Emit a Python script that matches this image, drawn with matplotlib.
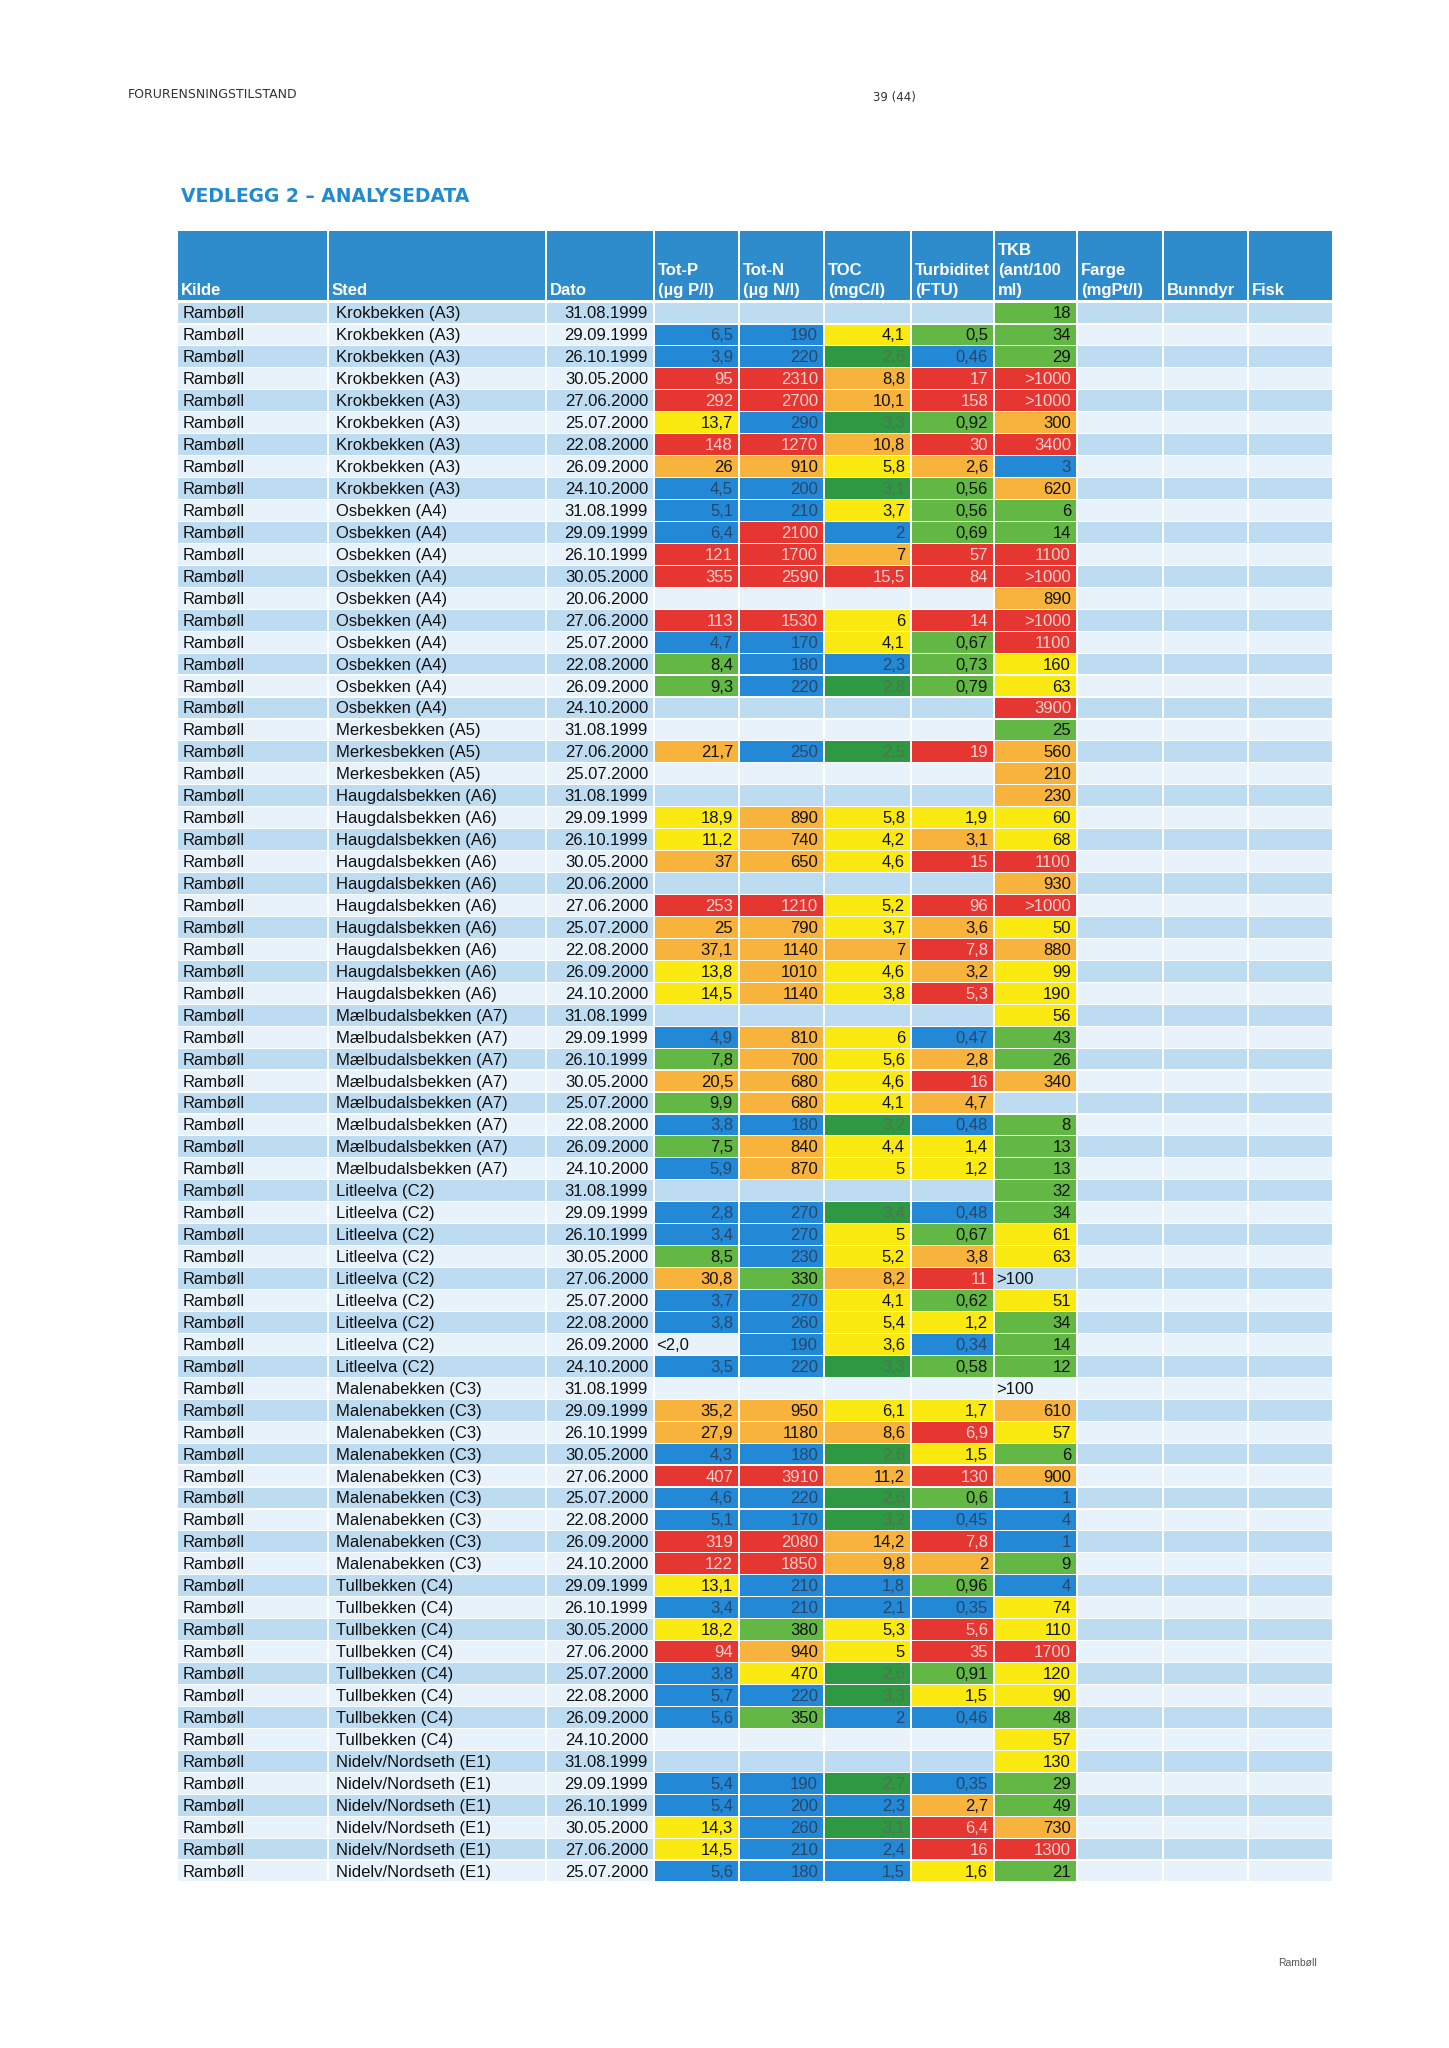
import matplotlib
matplotlib.use("Agg")
import matplotlib.pyplot as plt
from matplotlib.patches import Rectangle
from bisect import bisect_right

# ---- data -------------------------------------------------------------
HEADERS = ["Kilde", "Sted", "Dato", "Tot-P\n(µg P/l)", "Tot-N\n(µg N/l)",
           "TOC\n(mgC/l)", "Turbiditet\n(FTU)", "TKB\n(ant/100\nml)",
           "Farge\n(mgPt/l)", "Bunndyr", "Fisk"]

KILDE = "Rambøll"

STED = (["Krokbekken (A3)"] * 9 + ["Osbekken (A4)"] * 10 +
        ["Merkesbekken (A5)"] * 3 + ["Haugdalsbekken (A6)"] * 10 +
        ["Mælbudalsbekken (A7)"] * 8 + ["Litleelva (C2)"] * 9 +
        ["Malenabekken (C3)"] * 9 + ["Tullbekken (C4)"] * 8 +
        ["Nidelv/Nordseth (E1)"] * 6)

DATO = [
    # Krokbekken
    "31.08.1999", "29.09.1999", "26.10.1999", "30.05.2000", "27.06.2000",
    "25.07.2000", "22.08.2000", "26.09.2000", "24.10.2000",
    # Osbekken
    "31.08.1999", "29.09.1999", "26.10.1999", "30.05.2000", "20.06.2000",
    "27.06.2000", "25.07.2000", "22.08.2000", "26.09.2000", "24.10.2000",
    # Merkesbekken
    "31.08.1999", "27.06.2000", "25.07.2000",
    # Haugdalsbekken
    "31.08.1999", "29.09.1999", "26.10.1999", "30.05.2000", "20.06.2000",
    "27.06.2000", "25.07.2000", "22.08.2000", "26.09.2000", "24.10.2000",
    # Maelbudalsbekken
    "31.08.1999", "29.09.1999", "26.10.1999", "30.05.2000", "25.07.2000",
    "22.08.2000", "26.09.2000", "24.10.2000",
    # Litleelva
    "31.08.1999", "29.09.1999", "26.10.1999", "30.05.2000", "27.06.2000",
    "25.07.2000", "22.08.2000", "26.09.2000", "24.10.2000",
    # Malenabekken
    "31.08.1999", "29.09.1999", "26.10.1999", "30.05.2000", "27.06.2000",
    "25.07.2000", "22.08.2000", "26.09.2000", "24.10.2000",
    # Tullbekken
    "29.09.1999", "26.10.1999", "30.05.2000", "27.06.2000", "25.07.2000",
    "22.08.2000", "26.09.2000", "24.10.2000",
    # Nidelv
    "31.08.1999", "29.09.1999", "26.10.1999", "30.05.2000", "27.06.2000",
    "25.07.2000",
]

TOT_P = [None, 6.5, 3.9, 95, 292, 13.7, 148, 26, 4.5,
         5.1, 6.4, 121, 355, None, 113, 4.7, 8.4, 9.3, None,
         None, 21.7, None,
         None, 18.9, 11.2, 37, None, 253, 25, 37.1, 13.8, 14.5,
         None, 4.9, 7.8, 20.5, 9.9, 3.8, 7.5, 5.9,
         None, 2.8, 3.4, 8.5, 30.8, 3.7, 3.8, "<2,0", 3.5,
         None, 35.2, 27.9, 4.3, 407, 4.6, 5.1, 319, 122,
         13.1, 3.4, 18.2, 94, 3.8, 5.7, 5.6, None,
         None, 5.4, 5.4, 14.3, 14.5, 5.6]

TOT_N = [None, 190, 220, 2310, 2700, 290, 1270, 910, 200,
         210, 2100, 1700, 2590, None, 1530, 170, 180, 220, None,
         None, 250, None,
         None, 890, 740, 650, None, 1210, 790, 1140, 1010, 1140,
         None, 810, 700, 680, 680, 180, 840, 870,
         None, 270, 270, 230, 330, 270, 260, 190, 220,
         None, 950, 1180, 180, 3910, 220, 170, 2080, 1850,
         210, 210, 380, 940, 470, 220, 350, None,
         None, 190, 200, 260, 210, 180]

TOC = [None, 4.1, 2.6, 8.8, 10.1, 3.3, 10.8, 5.8, 3.1,
       3.7, 2, 7, 15.5, None, 6, 4.1, 2.3, 2.8, None,
       None, 2.5, None,
       None, 5.8, 4.2, 4.6, None, 5.2, 3.7, 7, 4.6, 3.8,
       None, 6, 5.6, 4.6, 4.1, 3.2, 4.4, 5,
       None, 3.4, 5, 5.2, 8.2, 4.1, 5.4, 3.6, 3.3,
       None, 6.1, 8.6, 2.6, 11.2, 2.6, 3.2, 14.2, 9.8,
       1.8, 2.1, 5.3, 5, 2.6, 3.3, 2, None,
       None, 2.7, 2.3, 3.1, 2.4, 1.5]

TURB = [None, 0.5, 0.46, 17, 158, 0.92, 30, 2.6, 0.56,
        0.56, 0.69, 57, 84, None, 14, 0.67, 0.73, 0.79, None,
        None, 19, None,
        None, 1.9, 3.1, 15, None, 96, 3.6, 7.8, 3.2, 5.3,
        None, 0.47, 2.8, 16, 4.7, 0.48, 1.4, 1.2,
        None, 0.48, 0.67, 3.8, 11, 0.62, 1.2, 0.34, 0.58,
        None, 1.7, 6.9, 1.5, 130, 0.6, 0.45, 7.8, 2,
        0.96, 0.35, 5.6, 35, 0.91, 1.5, 0.46, None,
        None, 0.35, 2.7, 6.4, 16, 1.6]

TKB = [18, 34, 29, ">1000", ">1000", 300, 3400, 3, 620,
       6, 14, 1100, ">1000", 890, ">1000", 1100, 160, 63, 3900,
       25, 560, 210,
       230, 60, 68, 1100, 930, ">1000", 50, 880, 99, 190,
       56, 43, 26, 340, None, 8, 13, 13,
       32, 34, 61, 63, ">100", 51, 34, 14, 12,
       ">100", 610, 57, 6, 900, 1, 4, 1, 9,
       4, 74, 110, 1700, 120, 90, 48, 57,
       130, 29, 49, 730, 1300, 21]

# class limits (blue | green | yellow | orange | red)
LIMITS = {
    "tot_p": [7, 11, 20, 50],
    "tot_n": [300, 400, 550, 1200],
    "toc": [2.5, 3.5, 6.5, 15],
    "turb": [0.5, 1, 2, 5],
    "tkb": [5, 50, 200, 1000],
}

# ---- style ------------------------------------------------------------
HEAD_BLUE = "#2e8bcc"
BAND_DARK = "#bddbf1"
BAND_PALE = "#e8f2fa"
CLASS_COL = ["#2388d6", "#63b845", "#fbea12", "#f8b33d", "#e53631"]
TOC_GREEN = "#2e9843"
TXT_COL = ["#28486b", "#111111", "#111111", "#111111", "#f8d2cd"]
TOC_GREEN_TXT = "#4f744f"

FONT = "Liberation Sans"

COL_EDGES = [177, 328, 546, 654, 739, 824, 911, 994, 1077, 1163, 1248, 1333]
HEAD_TOP, HEAD_BOT = 231, 302
TABLE_BOT = 1882


def fmt(v):
    if isinstance(v, str):
        return v
    return f"{v:g}".replace(".", ",")


def classify(v, key):
    if v is None:
        return None
    if isinstance(v, str):
        return 4 if v.startswith(">1000") else None
    return bisect_right(LIMITS[key], v)


W, H = 1449, 2048
fig = plt.figure(figsize=(W / 100, H / 100), dpi=100)
fig.patch.set_facecolor("white")
ax = fig.add_axes([0, 0, 1, 1])
ax.set_xlim(0, W)
ax.set_ylim(H, 0)
ax.axis("off")

# page texts
ax.text(128, 94, "FORURENSNINGSTILSTAND", fontsize=9, color="#333333",
        family="DejaVu Sans", va="center", ha="left")
ax.text(873, 97, "39 (44)", fontsize=8.5, color="#333333",
        family="DejaVu Sans", va="center", ha="left")
ax.text(181, 197, "VEDLEGG 2 – ANALYSEDATA", fontsize=13.5, color="#1f8bd0",
        family="DejaVu Sans", fontweight="bold", va="center", ha="left")
ax.text(1278, 1963, "Rambøll", fontsize=7.5, color="#555555",
        family=FONT, va="center", ha="left")

# header
for j, label in enumerate(HEADERS):
    x0, x1 = COL_EDGES[j], COL_EDGES[j + 1]
    ax.add_patch(Rectangle((x0 + 1, HEAD_TOP), x1 - x0 - 2, HEAD_BOT - HEAD_TOP - 2,
                           facecolor=HEAD_BLUE, edgecolor="none"))
    ax.text(x0 + 4, HEAD_BOT - 4, label, fontsize=12, color="white",
            family=FONT, fontweight="bold", va="bottom", ha="left",
            linespacing=1.4)

n_rows = len(DATO)
row_h = (TABLE_BOT - HEAD_BOT) / n_rows
value_cols = [(TOT_P, "tot_p"), (TOT_N, "tot_n"), (TOC, "toc"),
              (TURB, "turb"), (TKB, "tkb")]

for i in range(n_rows):
    y0 = HEAD_BOT + i * row_h
    yc = y0 + row_h / 2 + 1
    band = BAND_DARK if i % 2 == 0 else BAND_PALE
    # background for every column
    for j in range(len(HEADERS)):
        x0, x1 = COL_EDGES[j], COL_EDGES[j + 1]
        ax.add_patch(Rectangle((x0 + 1, y0 + 0.6), x1 - x0 - 2, row_h - 1.2,
                               facecolor=band, edgecolor="none"))
    ax.text(COL_EDGES[0] + 6, yc, KILDE, fontsize=12, family=FONT,
            color="#111111", va="center", ha="left")
    ax.text(COL_EDGES[1] + 8, yc, STED[i], fontsize=12, family=FONT,
            color="#111111", va="center", ha="left")
    ax.text(COL_EDGES[3] - 6, yc, DATO[i], fontsize=12, family=FONT,
            color="#111111", va="center", ha="right")

    for k, (vals, key) in enumerate(value_cols):
        v = vals[i]
        if v is None:
            continue
        x0, x1 = COL_EDGES[3 + k], COL_EDGES[4 + k]
        c = classify(v, key)
        if c is None:
            ax.text(x0 + 2, yc, fmt(v), fontsize=12, family=FONT,
                    color="#111111", va="center", ha="left")
            continue
        face = CLASS_COL[c]
        tcol = TXT_COL[c]
        if key == "toc" and c == 1:
            face, tcol = TOC_GREEN, TOC_GREEN_TXT
        ax.add_patch(Rectangle((x0 + 1, y0 + 0.6), x1 - x0 - 2, row_h - 1.2,
                               facecolor=face, edgecolor="none"))
        ax.text(x1 - 6, yc, fmt(v), fontsize=12, family=FONT,
                color=tcol, va="center", ha="right")

fig.savefig("out.png", dpi=100, facecolor="white")
